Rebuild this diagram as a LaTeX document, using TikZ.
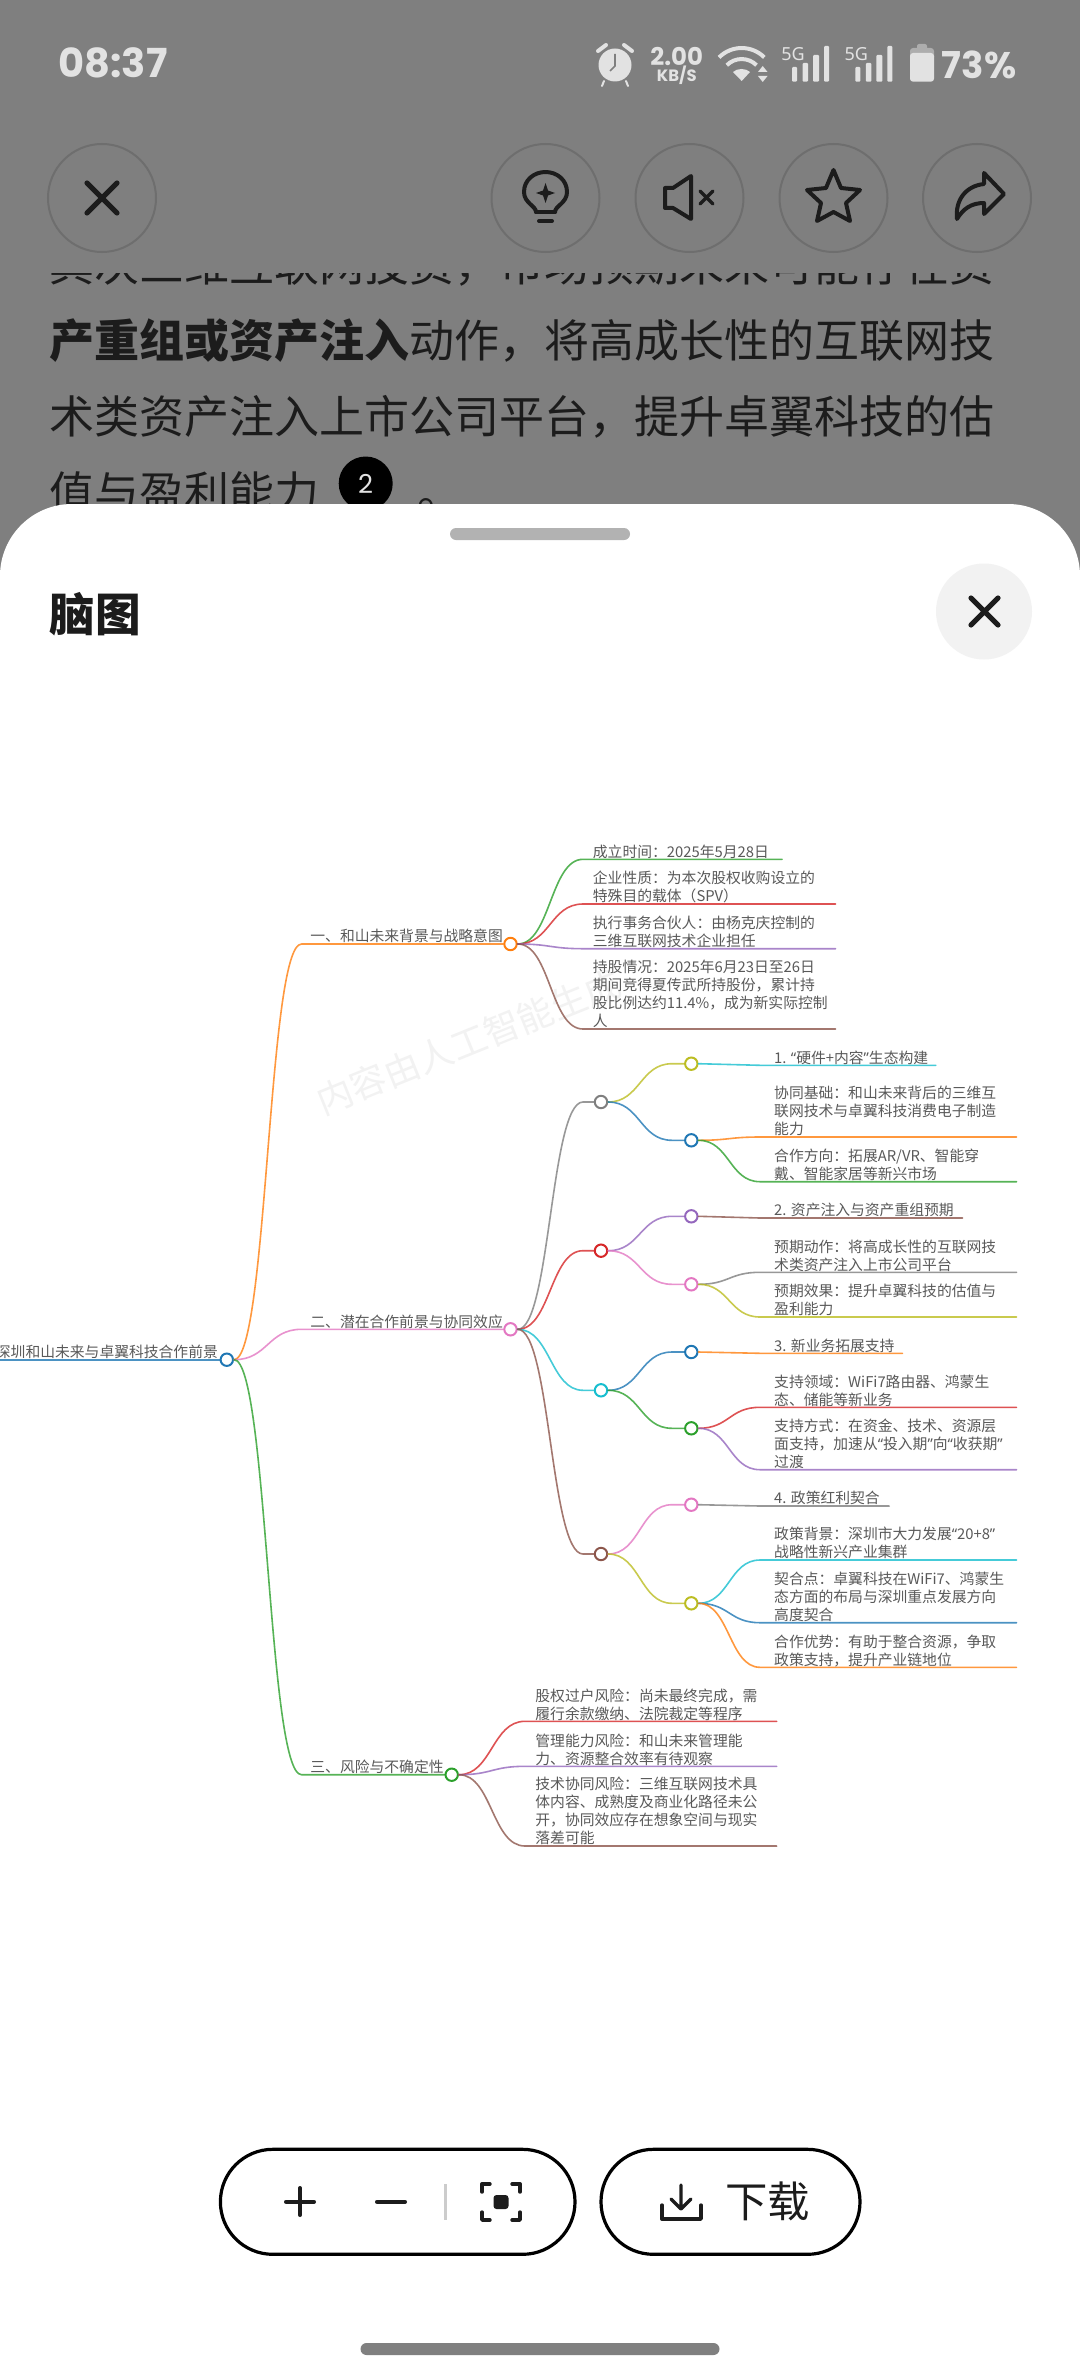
\documentclass[tikz,border=0pt]{standalone}
\usepackage{fontspec}
\usetikzlibrary{calc}
\setmainfont{Noto Sans CJK SC}
\newfontfamily\popf{Poppins}
\newfontfamily\qf{Noto Sans}
\newcommand\ql{{\qf “}}
\newcommand\qr{{\qf ”}}
\definecolor{cblue}{HTML}{1F77B4}
\definecolor{corange}{HTML}{FF7F0E}
\definecolor{cgreen}{HTML}{2CA02C}
\definecolor{cred}{HTML}{D62728}
\definecolor{cpurple}{HTML}{9467BD}
\definecolor{cbrown}{HTML}{8C564B}
\definecolor{cpink}{HTML}{E377C2}
\definecolor{cgray}{HTML}{7F7F7F}
\definecolor{colive}{HTML}{BCBD22}
\definecolor{ccyan}{HTML}{17BECF}
\definecolor{dimbg}{HTML}{7F7F7F}
\definecolor{stat}{HTML}{E2E2E2}
\definecolor{ink}{HTML}{1C1C1C}
\tikzset{
  wire/.style={line width=0.8pt,line cap=round,opacity=0.8},
  dotnode/.style={circle,draw=#1,fill=white,line width=1pt,minimum size=6.2pt,inner sep=0pt},
  maptext/.style={inner sep=0pt,align=left,text=black!65,font=\fontsize{7.4}{9}\selectfont},
  rowtext/.style={inner sep=0pt,anchor=base west,text=ink,font=\fontsize{22.5}{26}\selectfont},
  ringbtn/.style={circle,draw=black!57,line width=1pt,minimum size=54pt,inner sep=0pt},
  iconline/.style={draw=ink,line width=2pt,line cap=round,line join=round},
  pillbox/.style={draw=black,line width=1.6pt,rounded corners=26.2pt,fill=white},
  bar/.style={fill=stat,rounded corners=0.5pt}
}
% \curve{colour}{from}{bend coordinate}{end}
\newcommand\curve[4]{%
  \coordinate (mm) at ($(#2)!0.5!(#3)$);
  \draw[wire,#1] (#2) .. controls (mm |- #2) and (mm |- #3) .. (#3) -- (#4);}
% \leaf{name}{colour}{parent}{bend x}{y}{end x}{text x}{text}
\newcommand\leaf[8]{%
  \coordinate (#1b) at (#4,#5);
  \coordinate (#1e) at (#6,#5);
  \curve{#2}{#3.east}{#1b}{#1e}
  \node[maptext,anchor=south west] (#1) at (#7,#5+3.6) {#8\strut};}
% \branch{name}{colour}{parent}{bend x}{x}{y}
\newcommand\branch[6]{%
  \node[dotnode=#2] (#1) at (#5,#6) {};
  \coordinate (#1b) at (#4,#6);
  \curve{#2}{#3.east}{#1b}{#1.west}}
\begin{document}
\begin{tikzpicture}[x=0.5pt,y=-0.5pt]
\useasboundingbox (0,0) rectangle (1080,2376);
\clip (0,0) rectangle (1080,2376);
\fill[dimbg] (0,0) rectangle (1080,2376);
% ---- status bar
\node[inner sep=0pt,text=stat,font=\popf\fontsize{20}{20}\selectfont\bfseries] (clock) at (113,63) {08:37};
\fill[stat] (615,65) circle[radius=16.5];
\draw[line width=1pt,stat,line cap=round] (604,81) -- (602,86) (626,81) -- (628,86);
\draw[line width=2pt,stat,line cap=round] (598,51) -- (606,45) (632,51) -- (624,45);
\draw[line width=0.8pt,dimbg] (615,54) -- (615,66) -- (610,71);
\node[inner sep=0pt,text=stat,font=\popf\fontsize{12.2}{12}\selectfont\bfseries] (netv) at (676.7,56) {2.00};
\node[inner sep=0pt,text=stat,font=\popf\fontsize{8.2}{8}\selectfont\bfseries] (netu) at (676.7,75) {KB/S};
\draw[stat,line width=2pt] (764.3,57.4) arc[start angle=-45,end angle=-135,radius=32];
\draw[stat,line width=2pt] (756.5,65.2) arc[start angle=-45,end angle=-135,radius=21];
\fill[stat] (741.7,81) -- (733,72) .. controls (737,68) and (746,68) .. (750,72) -- cycle;
\fill[stat] (762.7,66) -- (767.5,72) -- (757.9,72) -- cycle (762.7,82) -- (767.5,76) -- (757.9,76) -- cycle;
\foreach \dx in {0,63.3}{
  \fill[bar] (792+\dx,67) rectangle (797+\dx,81.7);
  \fill[bar] (802.5+\dx,63) rectangle (808+\dx,81.7);
  \fill[bar] (813+\dx,55) rectangle (819+\dx,81.7);
  \fill[bar] (824+\dx,46) rectangle (829+\dx,81.7);
}
\node[inner sep=0pt,text=stat,font=\qf\fontsize{9}{9}\selectfont\bfseries] (sga) at (793,54) {5G};
\node[inner sep=0pt,text=stat,font=\qf\fontsize{9}{9}\selectfont\bfseries] (sgb) at (856.3,54) {5G};
\fill[black!32,rounded corners=1pt] (917,44) rectangle (927,50);
\fill[black!32,rounded corners=1.5pt] (910,48) rectangle (934,60);
\fill[stat,rounded corners=1.5pt] (910,53) rectangle (934,81.7);
\node[inner sep=0pt,text=stat,font=\popf\fontsize{18.5}{18}\selectfont\bfseries] (batt) at (979,65) {73\%};
% ---- article rows behind the sheet
\begin{scope}
\clip (0,274) rectangle (1080,520);
\node[rowtext] (row0) at (49.5,281) {其次三维互联网投资，市场预期未来可能存在资};
\node[rowtext] (row1) at (49.5,357) {\bfseries 产重组或资产注入\mdseries 动作，将高成长性的互联网技};
\node[rowtext] (row2) at (49.5,433) {术类资产注入上市公司平台，提升卓翼科技的估};
\node[rowtext] (row3) at (49.5,509) {值与盈利能力};
\node[rowtext] (row3b) at (417,509) {。};
\end{scope}
\node[circle,fill=black,minimum size=27pt,inner sep=0pt,text=stat,font=\popf\fontsize{13}{13}\selectfont] (badge) at (365.7,483.5) {2};
% ---- top buttons
\node[ringbtn] (bclose) at (102,198) {};
\node[ringbtn] (bbulb) at (545.5,198) {};
\node[ringbtn] (bmute) at (689.5,198) {};
\node[ringbtn] (bstar) at (833.5,198) {};
\node[ringbtn] (bshare) at (977,198) {};
\draw[iconline,line width=2.6pt] (87,183) -- (117,213) (117,183) -- (87,213);
\draw[iconline] (536,212) -- (555,212) (539,221) -- (552,221);
\draw[iconline] (536,212) .. controls (536,206) and (524,203) .. (524,192) .. controls (524,180) and (534,172) .. (545.5,172) .. controls (557,172) and (567,180) .. (567,192) .. controls (567,203) and (555,206) .. (555,212);
\fill[ink] (545.5,183) -- (548,190.5) -- (555,193) -- (548,195.5) -- (545.5,203) -- (543,195.5) -- (536,193) -- (543,190.5) -- cycle;
\draw[iconline] (665,188) -- (673,188) -- (691,176) -- (691,219) -- (673,208) -- (665,208) -- cycle;
\draw[iconline,line width=1.6pt] (700,191) -- (713,204) (713,191) -- (700,204);
\draw[iconline] (833.5,170) -- (841,188) -- (860,190) -- (846,203) -- (850,221) -- (833.5,212) -- (817,221) -- (821,203) -- (807,190) -- (826,188) -- cycle;
\draw[iconline] (984,173) -- (1004,194) -- (984,214) -- (984,203) .. controls (971,203) and (963,209) .. (957,219) .. controls (955,201) and (965,186) .. (984,184) -- cycle;
% ---- sheet
\fill[white,rounded corners=36pt] (0,504) rectangle (1080,2476);
\fill[black!30,rounded corners=3pt] (450,528) rectangle (630,540);
\node[inner sep=0pt,anchor=west,text=ink,font=\fontsize{22.8}{24}\selectfont\bfseries] (title) at (49,614) {脑图};
\node[circle,fill=black!5,minimum size=48pt,inner sep=0pt] (xclose) at (984,611.5) {};
\draw[iconline,line width=2.6pt] (971,598) -- (998,625) (998,598) -- (971,625);
% ---- watermark
\node[inner sep=0pt,rotate=22,text=black!5,font=\fontsize{18}{18}\selectfont] (wm) at (468.6,1042) {内容由人工智能生成};
% ---- root and first level
\coordinate (rs) at (0,1359.7);
\node[dotnode=cblue] (root) at (226.8,1359.7) {};
\draw[wire,cblue,line width=1.2pt] (rs) -- (root.west);
\node[maptext,anchor=south east] (roott) at (218.3,1363.2) {深圳和山未来与卓翼科技合作前景\strut};
\branch{s1}{corange}{root}{301.5}{510.5}{944}
\node[maptext,anchor=south west] (s1t) at (310,947.6) {一、和山未来背景与战略意图\strut};
\branch{s2}{cpink}{root}{301.5}{510.5}{1329.3}
\node[maptext,anchor=south west] (s2t) at (310,1332.9) {二、潜在合作前景与协同效应\strut};
\branch{s3}{cgreen}{root}{301.5}{451.7}{1774.7}
\node[maptext,anchor=south west] (s3t) at (310,1778.3) {三、风险与不确定性\strut};
% ---- section 1 leaves
\leaf{a}{cgreen}{s1}{583}{859.3}{782}{592.5}{成立时间：2025年5月28日}
\leaf{b}{cred}{s1}{583}{904}{835.5}{592.5}{企业性质：为本次股权收购设立的\\特殊目的载体（SPV）}
\leaf{c}{cpurple}{s1}{583}{948.7}{835.5}{592.5}{执行事务合伙人：由杨克庆控制的\\三维互联网技术企业担任}
\leaf{d}{cbrown}{s1}{583}{1029}{835.5}{592.5}{持股情况：2025年6月23日至26日\\期间竞得夏传武所持股份，累计持\\股比例达约11.4\%，成为新实际控制\\人}
% ---- section 2
\branch{A}{cgray}{s2}{583}{601}{1102}
\branch{Aa}{colive}{A}{672}{691.3}{1063.7}
\leaf{Aa1}{ccyan}{Aa}{760}{1065.3}{935.8}{773.8}{1. \ql 硬件+内容\qr 生态构建}
\branch{Ab}{cblue}{A}{672}{691.3}{1140.3}
\leaf{Ab1}{corange}{Ab}{760}{1137}{1016.5}{773.8}{协同基础：和山未来背后的三维互\\联网技术与卓翼科技消费电子制造\\能力}
\leaf{Ab2}{cgreen}{Ab}{760}{1181.7}{1016.5}{773.8}{合作方向：拓展AR/VR、智能穿\\戴、智能家居等新兴市场}
\branch{B}{cred}{s2}{583}{601}{1250.7}
\branch{Ba}{cpurple}{B}{672}{691.3}{1216.3}
\leaf{Ba1}{cbrown}{Ba}{760}{1218}{962.5}{773.8}{2. 资产注入与资产重组预期}
\branch{Bb}{cpink}{B}{672}{691.3}{1284.3}
\leaf{Bb1}{cgray}{Bb}{760}{1272.3}{1016.5}{773.8}{预期动作：将高成长性的互联网技\\术类资产注入上市公司平台}
\leaf{Bb2}{colive}{Bb}{760}{1317}{1016.5}{773.8}{预期效果：提升卓翼科技的估值与\\盈利能力}
\branch{C}{ccyan}{s2}{583}{601}{1390.3}
\branch{Ca}{cblue}{C}{672}{691.3}{1352}
\leaf{Ca1}{corange}{Ca}{760}{1353.3}{902.5}{773.8}{3. 新业务拓展支持}
\branch{Cb}{cgreen}{C}{672}{691.3}{1428.3}
\leaf{Cb1}{cred}{Cb}{760}{1407.3}{1016.5}{773.8}{支持领域：WiFi7路由器、鸿蒙生\\态、储能等新业务}
\leaf{Cb2}{cpurple}{Cb}{760}{1469.7}{1016.5}{773.8}{支持方式：在资金、技术、资源层\\面支持，加速从\ql 投入期\qr 向\ql 收获期\qr\\过渡}
\branch{D}{cbrown}{s2}{583}{601}{1554}
\branch{Da}{cpink}{D}{672}{691.3}{1504.7}
\leaf{Da1}{cgray}{Da}{760}{1506}{889.2}{773.8}{4. 政策红利契合}
\branch{Db}{colive}{D}{672}{691.3}{1603.3}
\leaf{Db1}{ccyan}{Db}{760}{1560}{1016.5}{773.8}{政策背景：深圳市大力发展\ql 20+8\qr\\战略性新兴产业集群}
\leaf{Db2}{cblue}{Db}{760}{1622.7}{1016.5}{773.8}{契合点：卓翼科技在WiFi7、鸿蒙生\\态方面的布局与深圳重点发展方向\\高度契合}
\leaf{Db3}{corange}{Db}{760}{1667.3}{1016.5}{773.8}{合作优势：有助于整合资源，争取\\政策支持，提升产业链地位}
% ---- section 3 leaves
\leaf{e}{cred}{s3}{525}{1721.3}{776.7}{535}{股权过户风险：尚未最终完成，需\\履行余款缴纳、法院裁定等程序}
\leaf{f}{cpurple}{s3}{525}{1766.3}{776.7}{535}{管理能力风险：和山未来管理能\\力、资源整合效率有待观察}
\leaf{g}{cbrown}{s3}{525}{1846}{776.7}{535}{技术协同风险：三维互联网技术具\\体内容、成熟度及商业化路径未公\\开，协同效应存在想象空间与现实\\落差可能}
% ---- bottom controls
\draw[pillbox] (220.4,2149.3) rectangle (575,2254.3);
\draw[pillbox] (601,2149.3) rectangle (860,2254.3);
\draw[iconline] (286,2201.7) -- (314,2201.7) (300,2188) -- (300,2215);
\draw[iconline] (377,2201.7) -- (405,2201.7);
\draw[black!20,line width=1.3pt] (445.5,2184) -- (445.5,2220);
\draw[iconline,line width=1.7pt] (482,2192) -- (482,2184) -- (490,2184) (512,2184) -- (520,2184) -- (520,2192) (482,2212) -- (482,2220) -- (490,2220) (512,2220) -- (520,2220) -- (520,2212);
\fill[ink,rounded corners=1.5pt] (493.5,2195) rectangle (508.5,2209);
\draw[iconline,line width=1.7pt] (662,2205) -- (662,2219) -- (701,2219) -- (701,2205);
\draw[iconline,line width=1.7pt] (681,2185) -- (681,2209) (671,2199) -- (681,2209) -- (691,2199);
\node[inner sep=0pt,anchor=west,text=ink,font=\fontsize{21.2}{22}\selectfont] (dl) at (725,2201) {下载};
\fill[black!50,rounded corners=3pt] (360.5,2343) rectangle (719.5,2355);
\end{tikzpicture}
\end{document}
